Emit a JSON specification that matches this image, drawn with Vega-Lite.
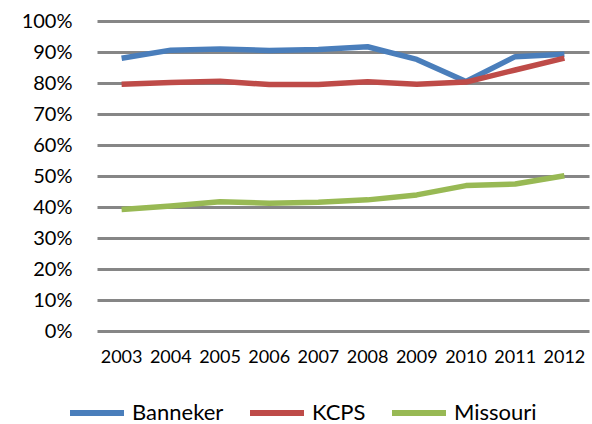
{
  "$schema": "https://vega.github.io/schema/vega-lite/v6.json",
  "width": 492,
  "height": 310,
  "autosize": {"type": "none"},
  "padding": {"left": 97, "top": 21, "right": 3, "bottom": 93},
  "background": "white",
  "config": {
    "view": {"stroke": null},
    "font": "Lato",
    "axis": {"labelFont": "Lato", "labelColor": "#000000"},
    "legend": {"labelFont": "Lato"}
  },
  "data": {
    "values": [
      {"year": "2003", "series": "Banneker", "value": 0.880},
      {"year": "2004", "series": "Banneker", "value": 0.906},
      {"year": "2005", "series": "Banneker", "value": 0.910},
      {"year": "2006", "series": "Banneker", "value": 0.905},
      {"year": "2007", "series": "Banneker", "value": 0.908},
      {"year": "2008", "series": "Banneker", "value": 0.917},
      {"year": "2009", "series": "Banneker", "value": 0.876},
      {"year": "2010", "series": "Banneker", "value": 0.805},
      {"year": "2011", "series": "Banneker", "value": 0.885},
      {"year": "2012", "series": "Banneker", "value": 0.893},
      {"year": "2003", "series": "KCPS", "value": 0.796},
      {"year": "2004", "series": "KCPS", "value": 0.802},
      {"year": "2005", "series": "KCPS", "value": 0.806},
      {"year": "2006", "series": "KCPS", "value": 0.795},
      {"year": "2007", "series": "KCPS", "value": 0.795},
      {"year": "2008", "series": "KCPS", "value": 0.804},
      {"year": "2009", "series": "KCPS", "value": 0.796},
      {"year": "2010", "series": "KCPS", "value": 0.803},
      {"year": "2011", "series": "KCPS", "value": 0.842},
      {"year": "2012", "series": "KCPS", "value": 0.880},
      {"year": "2003", "series": "Missouri", "value": 0.392},
      {"year": "2004", "series": "Missouri", "value": 0.403},
      {"year": "2005", "series": "Missouri", "value": 0.417},
      {"year": "2006", "series": "Missouri", "value": 0.412},
      {"year": "2007", "series": "Missouri", "value": 0.415},
      {"year": "2008", "series": "Missouri", "value": 0.423},
      {"year": "2009", "series": "Missouri", "value": 0.439},
      {"year": "2010", "series": "Missouri", "value": 0.469},
      {"year": "2011", "series": "Missouri", "value": 0.474},
      {"year": "2012", "series": "Missouri", "value": 0.501}
    ]
  },
  "mark": {"type": "line", "strokeWidth": 5.5, "strokeJoin": "round", "strokeCap": "butt"},
  "encoding": {
    "x": {
      "field": "year",
      "type": "ordinal",
      "scale": {"type": "band", "paddingInner": 0, "paddingOuter": 0},
      "axis": {
        "title": null,
        "domain": false,
        "ticks": false,
        "grid": false,
        "labelAngle": 0,
        "labelFontSize": 18,
        "labelPadding": 17,
        "labelBaseline": "top"
      }
    },
    "y": {
      "field": "value",
      "type": "quantitative",
      "scale": {"domain": [0, 1], "nice": false, "zero": true},
      "axis": {
        "title": null,
        "format": ".0%",
        "values": [0, 0.1, 0.2, 0.3, 0.4, 0.5, 0.6, 0.7, 0.8, 0.9, 1],
        "domain": false,
        "ticks": false,
        "grid": true,
        "gridColor": "#868686",
        "gridWidth": 3,
        "labelFontSize": 20,
        "labelPadding": 25
      }
    },
    "color": {
      "field": "series",
      "type": "nominal",
      "scale": {"domain": ["Banneker", "KCPS", "Missouri"], "range": ["#4a7ebb", "#be4b48", "#98b954"]},
      "legend": {
        "title": null,
        "orient": "none",
        "direction": "horizontal",
        "legendX": -30,
        "legendY": 362,
        "symbolType": "stroke",
        "symbolSize": 2916,
        "symbolStrokeWidth": 6,
        "labelFontSize": 22,
        "labelOffset": 5,
        "columnPadding": 14,
        "labelColor": "#000000"
      }
    }
  }
}
